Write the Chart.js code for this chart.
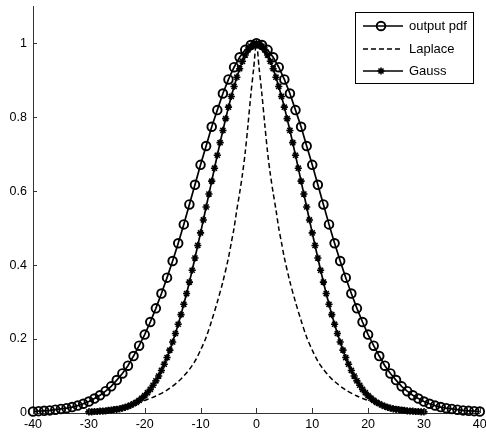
<!DOCTYPE html>
<html>
<head>
<meta charset="utf-8">
<script src="https://cdn.jsdelivr.net/npm/chart.js@4"></script>
<style>
  html, body { margin: 0; padding: 0; background: #fff; }
  #wrap { width: 486px; height: 439px; }
</style>
</head>
<body>
<div id="wrap"><canvas id="pdfChart" width="486" height="439"></canvas></div>
<script>
// values
const xTicks = [-40, -30, -20, -10, 0, 10, 20, 30, 40];
const yTicks = [0, 0.2, 0.4, 0.6, 0.8, 1];

const outputX = [
  -40, -39, -38, -37, -36, -35, -34, -33, -32, -31, -30, -29, -28, -27, -26, -25, -24, -23, -22, -21,
  -20, -19, -18, -17, -16, -15, -14, -13, -12, -11, -10, -9, -8, -7, -6, -5, -4, -3, -2, -1,
  0, 1, 2, 3, 4, 5, 6, 7, 8, 9, 10, 11, 12, 13, 14, 15, 16, 17, 18, 19,
  20, 21, 22, 23, 24, 25, 26, 27, 28, 29, 30, 31, 32, 33, 34, 35, 36, 37, 38, 39, 40
];
const outputPdf = [
  0.004, 0.005, 0.006, 0.007, 0.009, 0.011, 0.013, 0.016, 0.020, 0.025, 0.031, 0.039, 0.048, 0.059, 0.072, 0.089, 0.107, 0.128, 0.154, 0.182,
  0.212, 0.246, 0.283, 0.323, 0.366, 0.411, 0.459, 0.510, 0.564, 0.617, 0.671, 0.722, 0.774, 0.819, 0.864, 0.902, 0.935, 0.962, 0.982, 0.995,
  1.000, 0.995, 0.982, 0.962, 0.935, 0.902, 0.864, 0.819, 0.774, 0.722, 0.671, 0.617, 0.564, 0.510, 0.459, 0.411, 0.366, 0.323, 0.283, 0.246,
  0.212, 0.182, 0.154, 0.128, 0.107, 0.089, 0.072, 0.059, 0.048, 0.039, 0.031, 0.025, 0.020, 0.016, 0.013, 0.011, 0.009, 0.007, 0.006, 0.005, 0.004
];

const laplaceX = [
  -30, -28, -26, -24, -22, -20, -18, -16, -14, -13, -12, -11, -10, -9, -8, -7, -6, -5, -4.5, -4, -3.5, -3, -2.5, -2, -1.5, -1, -0.5,
  0, 0.5, 1, 1.5, 2, 2.5, 3, 3.5, 4, 4.5, 5, 6, 7, 8, 9, 10, 11, 12, 13, 14, 16, 18, 20, 22, 24, 26, 28, 30
];
const laplace = [
  0.008, 0.010, 0.014, 0.019, 0.026, 0.034, 0.046, 0.062, 0.085, 0.100, 0.118, 0.140, 0.170, 0.205, 0.250, 0.300, 0.355, 0.420, 0.460, 0.500, 0.550, 0.595, 0.645, 0.705, 0.780, 0.860, 0.930,
  1.000, 0.930, 0.860, 0.780, 0.705, 0.645, 0.595, 0.550, 0.500, 0.460, 0.420, 0.355, 0.300, 0.250, 0.205, 0.170, 0.140, 0.118, 0.100, 0.085, 0.062, 0.046, 0.034, 0.026, 0.019, 0.014, 0.010, 0.008
];

const gaussX = [
  -30, -29.5, -29, -28.5, -28, -27.5, -27, -26.5, -26, -25.5, -25, -24.5, -24, -23.5, -23, -22.5, -22, -21.5, -21, -20.5,
  -20, -19.5, -19, -18.5, -18, -17.5, -17, -16.5, -16, -15.5, -15, -14.5, -14, -13.5, -13, -12.5, -12, -11.5, -11, -10.5,
  -10, -9.5, -9, -8.5, -8, -7.5, -7, -6.5, -6, -5.5, -5, -4.5, -4, -3.5, -3, -2.5, -2, -1.5, -1, -0.5,
  0, 0.5, 1, 1.5, 2, 2.5, 3, 3.5, 4, 4.5, 5, 5.5, 6, 6.5, 7, 7.5, 8, 8.5, 9, 9.5,
  10, 10.5, 11, 11.5, 12, 12.5, 13, 13.5, 14, 14.5, 15, 15.5, 16, 16.5, 17, 17.5, 18, 18.5, 19, 19.5,
  20, 20.5, 21, 21.5, 22, 22.5, 23, 23.5, 24, 24.5, 25, 25.5, 26, 26.5, 27, 27.5, 28, 28.5, 29, 29.5, 30
];
const gauss = [
  0.003, 0.003, 0.004, 0.004, 0.005, 0.005, 0.006, 0.007, 0.008, 0.009, 0.010, 0.011, 0.013, 0.015, 0.018, 0.021, 0.025, 0.029, 0.034, 0.040,
  0.047, 0.055, 0.064, 0.075, 0.087, 0.100, 0.115, 0.132, 0.150, 0.170, 0.192, 0.215, 0.240, 0.266, 0.294, 0.323, 0.354, 0.386, 0.419, 0.453,
  0.487, 0.522, 0.557, 0.592, 0.627, 0.662, 0.697, 0.731, 0.764, 0.796, 0.827, 0.856, 0.883, 0.908, 0.931, 0.951, 0.968, 0.982, 0.992, 0.998,
  1.000, 0.998, 0.992, 0.982, 0.968, 0.951, 0.931, 0.908, 0.883, 0.856, 0.827, 0.796, 0.764, 0.731, 0.697, 0.662, 0.627, 0.592, 0.557, 0.522,
  0.487, 0.453, 0.419, 0.386, 0.354, 0.323, 0.294, 0.266, 0.240, 0.215, 0.192, 0.170, 0.150, 0.132, 0.115, 0.100, 0.087, 0.075, 0.064, 0.055,
  0.047, 0.040, 0.034, 0.029, 0.025, 0.021, 0.018, 0.015, 0.013, 0.011, 0.010, 0.009, 0.008, 0.007, 0.006, 0.005, 0.005, 0.004, 0.004, 0.003, 0.003
];

const fontFamily = '"Liberation Sans", Arial, sans-serif';

function toPoints(xs, ys) {
  return xs.map((x, i) => ({ x: x, y: ys[i] }));
}

// no extra room for edge labels, layout padding decides the plot box
function noScalePadding(s) {
  s.paddingLeft = 0;
  s.paddingRight = 0;
  s.paddingTop = 0;
  s.paddingBottom = 0;
}

// matlab style ticks pointing into the plot
const innerTicks = {
  id: 'innerTicks',
  afterDraw(chart) {
    const ctx = chart.ctx;
    const xs = chart.scales.x;
    const ys = chart.scales.y;
    const area = chart.chartArea;
    ctx.save();
    ctx.strokeStyle = '#333';
    ctx.lineWidth = 1;
    ctx.beginPath();
    xTicks.forEach(v => {
      const px = Math.round(xs.getPixelForValue(v)) + 0.5;
      ctx.moveTo(px, area.bottom);
      ctx.lineTo(px, area.bottom - 5);
    });
    yTicks.forEach(v => {
      const py = Math.round(ys.getPixelForValue(v)) + 0.5;
      ctx.moveTo(area.left, py);
      ctx.lineTo(area.left + 4, py);
    });
    ctx.stroke();
    ctx.restore();
  }
};

// boxed legend with line samples like the original
const boxLegend = {
  id: 'boxLegend',
  afterDraw(chart) {
    const ctx = chart.ctx;
    const left = 355, top = 12, right = 473, bottom = 83;
    ctx.save();
    ctx.fillStyle = '#fff';
    ctx.fillRect(left, top, right - left, bottom - top);
    ctx.strokeStyle = '#000';
    ctx.lineWidth = 1;
    ctx.strokeRect(left + 0.5, top + 0.5, right - left, bottom - top);
    const rows = [26, 49, 71];
    chart.data.datasets.forEach((ds, i) => {
      const y = rows[i];
      ctx.strokeStyle = '#000';
      ctx.lineWidth = ds.borderWidth;
      ctx.setLineDash(ds.borderDash || []);
      ctx.beginPath();
      ctx.moveTo(363, y);
      ctx.lineTo(403, y);
      ctx.stroke();
      ctx.setLineDash([]);
      if (ds.pointRadius > 0) {
        ctx.lineWidth = ds.pointBorderWidth;
        ctx.fillStyle = ds.pointBackgroundColor;
        Chart.helpers.drawPoint(ctx, {
          pointStyle: ds.pointStyle,
          radius: ds.pointRadius,
          borderWidth: ds.pointBorderWidth,
          rotation: 0
        }, 381, y);
      }
      ctx.fillStyle = '#000';
      ctx.font = '13px ' + fontFamily;
      ctx.textBaseline = 'middle';
      ctx.fillText(ds.label, 409, y);
    });
    ctx.restore();
  }
};

new Chart(document.getElementById('pdfChart'), {
  type: 'line',
  data: {
    datasets: [
      {
        label: 'output pdf',
        data: toPoints(outputX, outputPdf),
        borderColor: '#000',
        borderWidth: 1.7,
        pointStyle: 'circle',
        pointRadius: 4.3,
        pointBorderWidth: 1.9,
        pointBorderColor: '#000',
        pointBackgroundColor: 'rgba(0,0,0,0)',
        tension: 0
      },
      {
        label: 'Laplace',
        data: toPoints(laplaceX, laplace),
        borderColor: '#000',
        borderWidth: 1.5,
        borderDash: [5, 3],
        pointRadius: 0,
        tension: 0.3
      },
      {
        label: 'Gauss',
        data: toPoints(gaussX, gauss),
        borderColor: '#000',
        borderWidth: 1.7,
        pointStyle: 'star',
        pointRadius: 3.6,
        pointBorderWidth: 1.6,
        pointBorderColor: '#000',
        pointBackgroundColor: '#000',
        tension: 0
      }
    ]
  },
  options: {
    responsive: false,
    animation: false,
    clip: false,
    layout: { padding: { top: 4, right: 6, left: 0, bottom: 0 } },
    plugins: {
      legend: { display: false },
      tooltip: { enabled: false }
    },
    scales: {
      x: {
        type: 'linear',
        min: -40,
        max: 40,
        afterBuildTicks: s => { s.ticks = xTicks.map(v => ({ value: v })); },
        afterFit: s => { s.height = 26; noScalePadding(s); },
        ticks: {
          color: '#000',
          padding: 4,
          maxRotation: 0,
          font: { family: fontFamily, size: 12.5 },
          callback: v => String(v)
        },
        grid: { display: false, drawTicks: false },
        border: { color: '#333', width: 1 }
      },
      y: {
        type: 'linear',
        min: 0,
        max: 1.1,
        afterBuildTicks: s => { s.ticks = yTicks.map(v => ({ value: v })); },
        afterFit: s => { s.width = 33; noScalePadding(s); },
        ticks: {
          color: '#000',
          padding: 6,
          font: { family: fontFamily, size: 12.5 },
          callback: v => String(v)
        },
        grid: { display: false, drawTicks: false },
        border: { color: '#333', width: 1 }
      }
    }
  },
  plugins: [innerTicks, boxLegend]
});
</script>
</body>
</html>
